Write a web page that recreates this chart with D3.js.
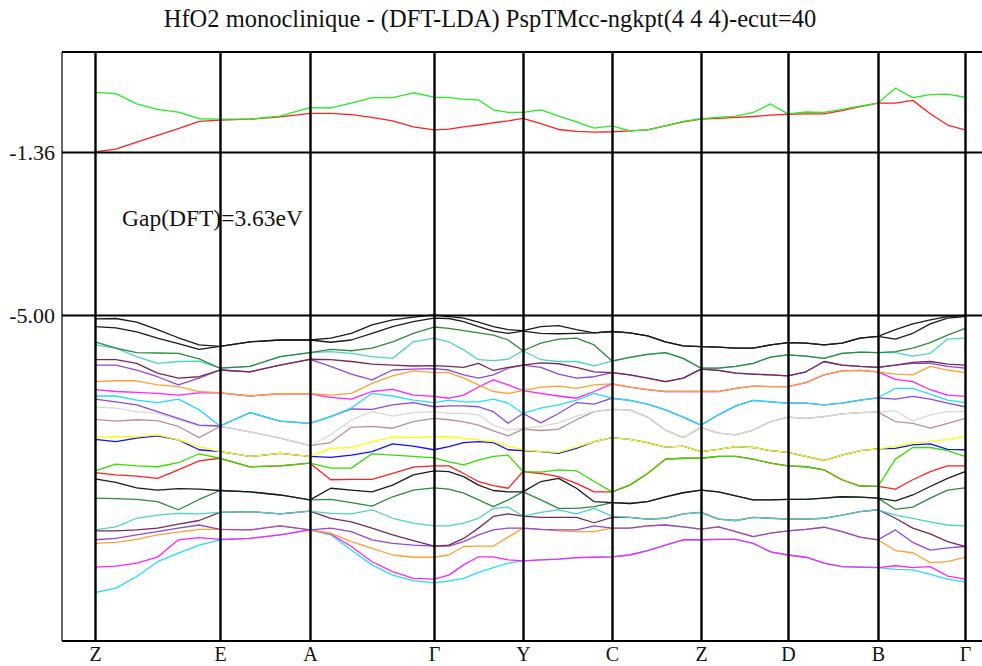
<!DOCTYPE html>
<html><head><meta charset="utf-8">
<script src="https://cdn.jsdelivr.net/npm/d3@7"></script>
<style>
body{margin:0;background:#fff;}
svg{display:block;}
text{font-family:"Liberation Serif","Times New Roman",serif;fill:#111;}
</style>
</head><body>
<svg id="chart" width="982" height="666"></svg>
<script>
// ---------- data ----------
const title = "HfO2 monoclinique - (DFT-LDA) PspTMcc-ngkpt(4 4 4)-ecut=40";
const gapLabel = "Gap(DFT)=3.63eV";
const kLabels = ["Z","E","A","Γ","Y","C","Z","D","B","Γ"];
const kPathPos = [0, 1.25, 2.15, 3.39, 4.28, 5.17, 6.06, 6.93, 7.83, 8.70];
const kSegmentSteps = [6,3,6,6,5,5,5,5,5];
const energyTicks = [-1.36, -5.00];
const energyTickLabels = ["-1.36", "-5.00"];

// conduction bands
const cb1 = [-1.36,-1.30,-1.14,-0.99,-0.84,-0.68,-0.65, -0.63,-0.58,-0.50, -0.50,-0.53,-0.59,-0.67,-0.80,-0.87, -0.85,-0.80,-0.76,-0.71,-0.67,-0.61, -0.73,-0.86,-0.90,-0.92,-0.91, -0.89,-0.87,-0.78,-0.69,-0.63, -0.61,-0.59,-0.57,-0.54,-0.52, -0.51,-0.51,-0.44,-0.35,-0.27, -0.27,-0.21,-0.51,-0.76,-0.87];
const cb2 = [-0.03,-0.06,-0.29,-0.41,-0.47,-0.62,-0.63, -0.63,-0.56,-0.37, -0.38,-0.27,-0.15,-0.15,-0.04,-0.14, -0.15,-0.18,-0.20,-0.42,-0.48,-0.48, -0.42,-0.56,-0.69,-0.83,-0.78, -0.89,-0.87,-0.78,-0.68,-0.62, -0.59,-0.56,-0.48,-0.29,-0.51, -0.47,-0.48,-0.41,-0.34,-0.27, 0.06,-0.15,-0.08,-0.07,-0.14];

// valence bands (vb01 = lowest)
const vb01 = [-11.20,-11.10,-10.84,-10.51,-10.32,-10.14,-10.02, -9.99,-9.91,-9.80, -9.91,-10.25,-10.58,-10.81,-10.93,-10.98, -10.94,-10.88,-10.75,-10.64,-10.54,-10.49, -10.47,-10.45,-10.42,-10.41,-10.40, -10.36,-10.26,-10.14,-10.02,-10.02, -10.01,-10.01,-10.10,-10.29,-10.36, -10.41,-10.54,-10.62,-10.63,-10.64, -10.68,-10.69,-10.79,-10.90,-10.96];
const vb02 = [-10.63,-10.61,-10.54,-10.41,-10.02,-9.97,-10.01, -9.99,-9.91,-9.80, -9.89,-10.17,-10.51,-10.73,-10.88,-10.90, -10.81,-10.58,-10.40,-10.40,-10.47,-10.49, -10.47,-10.45,-10.42,-10.41,-10.40, -10.36,-10.26,-10.14,-10.02,-10.02, -10.01,-10.01,-10.10,-10.29,-10.36, -10.41,-10.54,-10.62,-10.63,-10.64, -10.60,-10.64,-10.62,-10.83,-10.90];
const vb03 = [-10.10,-10.08,-10.01,-9.91,-9.85,-9.79,-9.79, -9.80,-9.71,-9.80, -9.87,-10.06,-10.21,-10.36,-10.41,-10.41, -10.36,-10.17,-10.16,-10.16,-9.96,-9.76, -9.79,-9.82,-9.84,-9.84,-9.76, -9.76,-9.71,-9.69,-9.73,-9.78, -9.73,-9.84,-9.95,-9.87,-9.82, -9.79,-9.74,-9.84,-9.96,-10.02, -10.26,-10.31,-10.53,-10.51,-10.41];
const vb04 = [-10.02,-9.99,-9.91,-9.84,-9.76,-9.69,-9.79, -9.80,-9.71,-9.80, -9.76,-9.84,-10.02,-10.10,-10.14,-10.16, -10.16,-10.06,-9.91,-9.80,-9.76,-9.76, -9.79,-9.80,-9.80,-9.71,-9.76, -9.76,-9.71,-9.69,-9.73,-9.78, -9.73,-9.84,-9.95,-9.87,-9.82, -9.79,-9.74,-9.84,-9.96,-10.02, -9.80,-10.08,-10.25,-10.20,-10.17];
const vb05 = [-9.82,-9.82,-9.80,-9.76,-9.67,-9.59,-9.41, -9.39,-9.44,-9.38, -9.54,-9.62,-9.76,-9.91,-10.04,-10.16, -10.14,-9.99,-9.76,-9.50,-9.44,-9.49, -9.52,-9.52,-9.52,-9.64,-9.52, -9.52,-9.56,-9.54,-9.44,-9.41, -9.56,-9.59,-9.52,-9.54,-9.56, -9.56,-9.54,-9.47,-9.39,-9.35, -9.54,-9.76,-9.89,-10.06,-10.17];
const vb06 = [-9.80,-9.73,-9.54,-9.47,-9.43,-9.44,-9.41, -9.39,-9.44,-9.38, -9.43,-9.44,-9.35,-9.54,-9.65,-9.71, -9.71,-9.65,-9.54,-9.32,-9.29,-9.49, -9.41,-9.35,-9.44,-9.32,-9.49, -9.52,-9.56,-9.54,-9.44,-9.41, -9.56,-9.59,-9.52,-9.54,-9.56, -9.56,-9.54,-9.47,-9.39,-9.35, -9.47,-9.54,-9.62,-9.69,-9.71];
const vb07 = [-9.09,-9.10,-9.12,-9.17,-9.35,-9.12,-8.92, -8.95,-9.02,-9.13, -9.12,-9.19,-9.27,-9.06,-8.91,-8.86, -8.89,-8.98,-9.13,-9.28,-9.13,-8.95, -9.13,-9.32,-9.32,-9.28,-9.19, -9.21,-9.17,-9.06,-8.97,-8.91, -8.95,-9.04,-9.13,-9.13,-9.12, -9.12,-9.09,-9.06,-9.07,-9.09, -9.34,-9.29,-9.09,-8.91,-8.86];
const vb08 = [-8.66,-8.74,-8.86,-8.91,-8.88,-8.89,-8.92, -8.95,-9.02,-9.13, -8.87,-8.91,-8.95,-8.80,-8.57,-8.48, -8.50,-8.61,-8.80,-8.92,-8.95,-8.95, -8.72,-8.65,-8.87,-9.17,-9.19, -9.21,-9.17,-9.06,-8.97,-8.91, -8.95,-9.04,-9.13,-9.13,-9.12, -9.12,-9.09,-9.06,-9.07,-9.09, -9.15,-9.02,-8.83,-8.65,-8.50];
const vb09 = [-8.52,-8.57,-8.60,-8.65,-8.46,-8.26,-8.20, -8.39,-8.37,-8.31, -8.68,-8.67,-8.67,-8.54,-8.40,-8.37, -8.37,-8.54,-8.72,-8.81,-8.87,-8.50, -8.54,-8.61,-8.76,-8.95,-8.95, -8.80,-8.54,-8.22,-8.20,-8.20, -8.16,-8.16,-8.22,-8.31,-8.37, -8.39,-8.46,-8.68,-8.82,-8.83, -8.89,-8.68,-8.50,-8.37,-8.37];
const vb10 = [-8.48,-8.33,-8.37,-8.39,-8.30,-8.10,-8.20, -8.39,-8.37,-8.31, -8.42,-8.42,-8.10,-8.13,-8.16,-8.19, -8.28,-8.35,-8.24,-8.16,-8.13,-8.50, -8.51,-8.46,-8.48,-8.72,-8.95, -8.80,-8.54,-8.22,-8.20,-8.20, -8.16,-8.16,-8.22,-8.31,-8.37, -8.39,-8.46,-8.68,-8.82,-8.83, -8.22,-7.96,-7.96,-8.03,-8.16];
const vb11 = [-7.78,-7.83,-7.75,-7.70,-7.79,-8.01,-8.05, -8.16,-8.09,-8.16, -8.18,-8.13,-8.05,-7.88,-7.93,-8.01, -7.94,-7.85,-7.83,-7.85,-8.01,-8.03, -8.05,-8.09,-7.98,-7.83,-7.74, -7.78,-7.85,-7.95,-7.93,-8.05, -8.00,-7.94,-7.96,-8.03,-8.07, -8.16,-8.25,-8.13,-8.03,-7.99, -7.98,-7.90,-7.88,-8.00,-8.01];
const vb12 = [-7.73,-7.72,-7.72,-7.68,-7.79,-7.94,-8.05, -8.16,-8.09,-8.16, -7.98,-7.96,-7.83,-7.73,-7.74,-7.72, -7.72,-7.75,-7.79,-7.83,-7.93,-8.01, -8.05,-8.07,-7.95,-7.83,-7.74, -7.78,-7.85,-7.95,-7.93,-8.05, -8.00,-7.94,-7.96,-8.03,-8.07, -8.16,-8.25,-8.13,-8.03,-7.99, -7.94,-7.87,-7.83,-7.78,-7.72];
const vb13 = [-7.33,-7.37,-7.34,-7.36,-7.49,-7.74,-7.49, -7.61,-7.75,-7.92, -7.85,-7.51,-7.49,-7.53,-7.38,-7.31, -7.34,-7.39,-7.46,-7.59,-7.70,-7.55, -7.58,-7.55,-7.34,-7.16,-7.11, -7.12,-7.28,-7.57,-7.74,-7.51, -7.64,-7.68,-7.57,-7.38,-7.28, -7.31,-7.27,-7.21,-7.18,-7.17, -7.38,-7.42,-7.53,-7.42,-7.31];
const vb14 = [-7.06,-7.08,-7.16,-7.20,-7.34,-7.48,-7.49, -7.61,-7.75,-7.92, -7.68,-7.34,-7.16,-7.26,-7.18,-7.16, -7.20,-7.20,-7.23,-7.46,-7.57,-7.53, -7.49,-7.41,-7.26,-7.16,-7.11, -7.12,-7.28,-7.57,-7.74,-7.51, -7.64,-7.68,-7.57,-7.38,-7.28, -7.31,-7.27,-7.21,-7.18,-7.17, -7.14,-7.37,-7.23,-7.16,-7.16];
const vb15 = [-6.88,-6.94,-7.01,-7.16,-7.31,-7.46,-7.48, -7.18,-7.37,-7.42, -7.27,-7.10,-7.11,-7.01,-6.96,-7.05, -7.03,-7.03,-7.05,-7.16,-7.42,-7.20, -7.41,-7.20,-6.96,-6.99,-6.86, -6.91,-6.99,-7.12,-7.28,-7.46, -7.23,-7.03,-6.91,-6.94,-6.97, -6.97,-7.01,-6.97,-6.90,-6.85, -6.88,-6.82,-6.88,-6.97,-7.05];
const vb16 = [-6.81,-6.81,-6.90,-6.96,-6.88,-7.12,-7.48, -7.18,-7.37,-7.42, -7.27,-7.08,-6.75,-6.81,-6.90,-6.96, -6.90,-6.94,-6.94,-6.88,-6.97,-7.20, -7.08,-7.01,-6.90,-6.75,-6.86, -6.91,-6.99,-7.12,-7.28,-7.46, -7.23,-7.03,-6.91,-6.94,-6.97, -6.97,-7.01,-6.97,-6.90,-6.85, -6.64,-6.64,-6.77,-6.90,-6.96];
const vb17 = [-6.67,-6.71,-6.73,-6.75,-6.79,-6.74,-6.74, -6.81,-6.76,-6.76, -6.84,-6.88,-6.71,-6.66,-6.79,-6.82, -6.86,-6.79,-6.61,-6.45,-6.56,-6.69, -6.75,-6.81,-6.86,-6.71,-6.54, -6.61,-6.67,-6.71,-6.71,-6.71, -6.71,-6.64,-6.59,-6.60,-6.60, -6.51,-6.34,-6.25,-6.24,-6.27, -6.44,-6.49,-6.67,-6.79,-6.82];
const vb18 = [-6.49,-6.47,-6.47,-6.56,-6.60,-6.71,-6.74, -6.81,-6.76,-6.76, -6.79,-6.75,-6.53,-6.36,-6.25,-6.29, -6.29,-6.41,-6.56,-6.71,-6.75,-6.69, -6.61,-6.59,-6.64,-6.56,-6.54, -6.61,-6.67,-6.71,-6.71,-6.71, -6.71,-6.64,-6.59,-6.60,-6.60, -6.51,-6.34,-6.25,-6.24,-6.27, -6.32,-6.34,-6.15,-6.23,-6.29];
const vb19 = [-6.12,-6.12,-6.23,-6.38,-6.56,-6.41,-6.23, -6.27,-6.12,-5.99, -6.15,-6.32,-6.45,-6.23,-6.21,-6.20, -6.23,-6.34,-6.41,-6.34,-6.19,-6.12, -6.17,-6.32,-6.41,-6.38,-6.29, -6.34,-6.41,-6.49,-6.41,-6.21, -6.24,-6.30,-6.32,-6.34,-6.36, -6.27,-6.04,-6.12,-6.15,-6.17, -6.12,-6.08,-6.08,-6.15,-6.19];
const vb20 = [-6.00,-6.00,-6.08,-6.30,-6.41,-6.38,-6.23, -6.27,-6.12,-5.99, -6.00,-6.04,-6.10,-6.12,-6.14,-6.13, -6.15,-6.17,-6.08,-6.24,-6.17,-6.12, -6.07,-6.09,-6.17,-6.27,-6.29, -6.34,-6.41,-6.49,-6.41,-6.21, -6.24,-6.30,-6.32,-6.34,-6.36, -6.27,-6.04,-6.12,-6.15,-6.17, -6.12,-6.06,-6.04,-6.10,-6.12];
const vb21 = [-5.67,-5.74,-5.93,-6.08,-6.04,-6.03,-6.19, -6.15,-5.93,-5.84, -5.82,-5.86,-5.93,-5.97,-5.60,-5.52, -5.60,-5.78,-6.00,-6.02,-5.99,-5.80, -6.00,-6.04,-6.04,-6.14,-6.03, -5.95,-5.88,-5.84,-5.97,-6.19, -6.19,-6.15,-6.08,-5.94,-5.89, -5.92,-5.97,-5.86,-5.83,-5.84, -5.84,-5.92,-5.86,-5.54,-5.52];
const vb22 = [-5.60,-5.74,-5.84,-5.85,-5.86,-5.98,-6.19, -6.15,-5.93,-5.84, -5.77,-5.80,-5.74,-5.60,-5.41,-5.27, -5.30,-5.35,-5.40,-5.45,-5.56,-5.80, -5.63,-5.54,-5.52,-5.67,-6.03, -5.95,-5.88,-5.84,-5.97,-6.19, -6.19,-6.15,-6.08,-5.94,-5.89, -5.92,-5.97,-5.86,-5.83,-5.84, -5.82,-5.74,-5.62,-5.45,-5.30];
const vb23 = [-5.26,-5.29,-5.38,-5.52,-5.64,-5.77,-5.70, -5.60,-5.56,-5.56, -5.61,-5.56,-5.41,-5.26,-5.15,-5.07, -5.08,-5.15,-5.26,-5.36,-5.41,-5.36, -5.41,-5.42,-5.41,-5.40,-5.37, -5.40,-5.47,-5.60,-5.69,-5.71, -5.72,-5.74,-5.74,-5.67,-5.62, -5.63,-5.67,-5.63,-5.52,-5.48, -5.54,-5.41,-5.20,-5.07,-5.04];
const vb24 = [-5.09,-5.08,-5.16,-5.33,-5.51,-5.67,-5.70, -5.60,-5.56,-5.56, -5.52,-5.41,-5.22,-5.11,-5.05,-5.00, -5.04,-5.07,-5.16,-5.26,-5.33,-5.35, -5.26,-5.24,-5.33,-5.40,-5.37, -5.40,-5.47,-5.60,-5.69,-5.71, -5.72,-5.74,-5.74,-5.67,-5.62, -5.63,-5.67,-5.63,-5.52,-5.48, -5.33,-5.20,-5.11,-5.04,-5.01];

const valenceBands = [vb01,vb02,vb03,vb04,vb05,vb06,vb07,vb08,vb09,vb10,vb11,vb12,vb13,vb14,vb15,vb16,vb17,vb18,vb19,vb20,vb21,vb22,vb23,vb24];
const valenceColors = ["#22ddff","#ff22ff","#ffa030","#9048d8","#78285e","#50d0c8","#2f8a38","#1a1a1a","#ff2020","#33dd00","#1010ff","#ffff00","#bc9090","#d8d8d8","#9048d8","#22ddff","#ff22ff","#ffa030","#9048d8","#78285e","#50d0c8","#2f8a38","#1a1a1a","#1a1a1a"];
const conductionBands = [cb1, cb2];
const conductionColors = ["#ff2020","#22ee22"];

// ---------- layout ----------
const frame = {left: 62, top: 52, bottom: 641, right: 990};
const svg = d3.select("#chart");

const x = d3.scaleLinear().domain([-0.33, 8.87]).range([62, 982]);
const y = d3.scaleLinear().domain([-12.28, 0.87]).range([641, 52]);

// k-point coordinates along the path
const kx = [];
kSegmentSteps.forEach((n, s) => {
  const a = kPathPos[s], b = kPathPos[s + 1];
  for (let j = (s === 0 ? 0 : 1); j <= n; j++) kx.push(a + (b - a) * j / n);
});

const line = d3.line().x((d, i) => x(kx[i])).y(d => y(d));

const bandsG = svg.append("g").attr("fill", "none").attr("stroke-width", 1.3).attr("stroke-linejoin", "round");
valenceBands.forEach((b, i) => {
  bandsG.append("path").attr("d", line(b)).attr("stroke", valenceColors[i]);
});
conductionBands.forEach((b, i) => {
  bandsG.append("path").attr("d", line(b)).attr("stroke", conductionColors[i]);
});

// frame
const g = svg.append("g").attr("stroke", "#000");
g.append("line").attr("x1", frame.left).attr("x2", frame.left).attr("y1", frame.top).attr("y2", frame.bottom).attr("stroke-width", 1.5).attr("stroke", "#333");
g.append("line").attr("x1", frame.left).attr("x2", frame.right).attr("y1", frame.top).attr("y2", frame.top).attr("stroke-width", 2);
g.append("line").attr("x1", frame.left).attr("x2", frame.right).attr("y1", frame.bottom).attr("y2", frame.bottom).attr("stroke-width", 2);

// energy axis (horizontal reference lines + labels)
const yAxis = d3.axisLeft(y).tickValues(energyTicks).tickFormat((d, i) => energyTickLabels[i]).tickSize(-(frame.right - frame.left)).tickPadding(7);
const ya = svg.append("g").attr("transform", `translate(${frame.left},0)`).call(yAxis);
ya.select(".domain").remove();
ya.selectAll(".tick line").attr("stroke", "#000").attr("stroke-width", 2);
ya.selectAll(".tick text").attr("font-family", "Liberation Serif, Times New Roman, serif").attr("font-size", 22).attr("fill", "#111").attr("dy", "0.36em");

// k-path axis (vertical lines + labels)
const xAxis = d3.axisBottom(x).tickValues(kPathPos).tickFormat((d, i) => kLabels[i]).tickSize(-(frame.bottom - frame.top));
const xa = svg.append("g").attr("transform", `translate(0,${frame.bottom})`).call(xAxis);
xa.select(".domain").remove();
xa.selectAll(".tick line").attr("stroke", "#000").attr("stroke-width", 2.4);
xa.selectAll(".tick text").attr("font-family", "Liberation Serif, Times New Roman, serif").attr("font-size", 20).attr("fill", "#111").attr("y", 20).attr("dy", 0);

// texts
svg.append("text").attr("x", 490).attr("y", 27).attr("text-anchor", "middle").attr("font-size", 24.5).text(title);
svg.append("text").attr("x", 122).attr("y", 226).attr("font-size", 23.5).text(gapLabel);
</script>
</body></html>
